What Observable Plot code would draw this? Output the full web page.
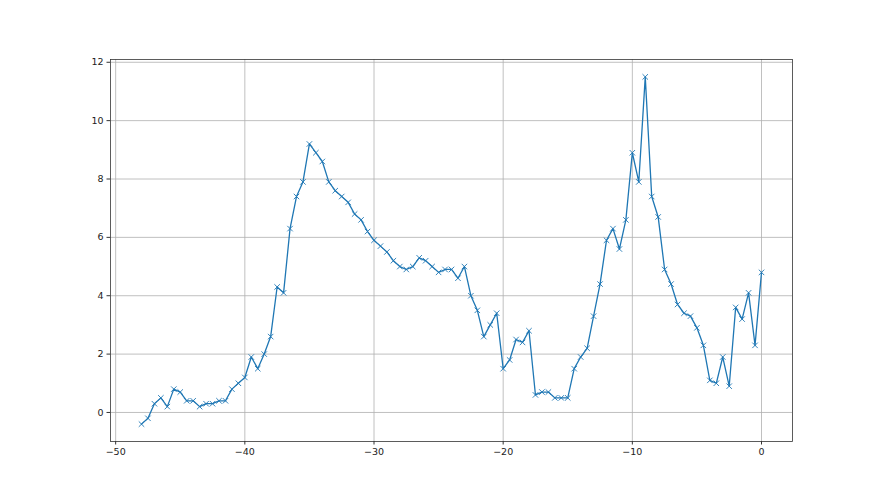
<!DOCTYPE html>
<html>
<head>
<meta charset="utf-8">
<script src="https://cdn.jsdelivr.net/npm/d3@7"></script>
<script src="https://cdn.jsdelivr.net/npm/@observablehq/plot@0.6"></script>
<style>
  html, body { margin: 0; padding: 0; background: #fff; }
</style>
</head>
<body>
<div id="chart"></div>
<script>
const xValues = [
  -48, -47.5, -47, -46.5, -46, -45.5, -45, -44.5, -44, -43.5,
  -43, -42.5, -42, -41.5, -41, -40.5, -40, -39.5, -39, -38.5,
  -38, -37.5, -37, -36.5, -36, -35.5, -35, -34.5, -34, -33.5,
  -33, -32.5, -32, -31.5, -31, -30.5, -30, -29.5, -29, -28.5,
  -28, -27.5, -27, -26.5, -26, -25.5, -25, -24.5, -24, -23.5,
  -23, -22.5, -22, -21.5, -21, -20.5, -20, -19.5, -19, -18.5,
  -18, -17.5, -17, -16.5, -16, -15.5, -15, -14.5, -14, -13.5,
  -13, -12.5, -12, -11.5, -11, -10.5, -10, -9.5, -9, -8.5,
  -8, -7.5, -7, -6.5, -6, -5.5, -5, -4.5, -4, -3.5,
  -3, -2.5, -2, -1.5, -1, -0.5, 0
];
const yValues = [
  -0.4, -0.2, 0.3, 0.5, 0.2, 0.8, 0.7, 0.4, 0.4, 0.2,
  0.3, 0.3, 0.4, 0.4, 0.8, 1.0, 1.2, 1.9, 1.5, 2.0,
  2.6, 4.3, 4.1, 6.3, 7.4, 7.9, 9.2, 8.9, 8.6, 7.9,
  7.6, 7.4, 7.2, 6.8, 6.6, 6.2, 5.9, 5.7, 5.5, 5.2,
  5.0, 4.9, 5.0, 5.3, 5.2, 5.0, 4.8, 4.9, 4.9, 4.6,
  5.0, 4.0, 3.5, 2.6, 3.0, 3.4, 1.5, 1.8, 2.5, 2.4,
  2.8, 0.6, 0.7, 0.7, 0.5, 0.5, 0.5, 1.5, 1.9, 2.2,
  3.3, 4.4, 5.9, 6.3, 5.6, 6.6, 8.9, 7.9, 11.5, 7.4,
  6.7, 4.9, 4.4, 3.7, 3.4, 3.3, 2.9, 2.3, 1.1, 1.0,
  1.9, 0.9, 3.6, 3.2, 4.1, 2.3, 4.8
];
const xTicks = [-50, -40, -30, -20, -10, 0];
const yTicks = [0, 2, 4, 6, 8, 10, 12];

const data = xValues.map((x, i) => ({x, y: yValues[i]}));
const fmt = d => d < 0 ? "\u2212" + Math.abs(d) : String(d);

const chart = Plot.plot({
  width: 880,
  height: 495,
  marginLeft: 110,
  marginRight: 88,
  marginTop: 59,
  marginBottom: 54,
  style: {background: "#fff", fontFamily: "DejaVu Sans", fontSize: "9.5px", color: "#222"},
  x: {domain: [-50.4, 2.4], ticks: xTicks},
  y: {domain: [-0.995, 12.095], ticks: yTicks},
  marks: [
    Plot.gridX(xTicks, {stroke: "#b0b0b0", strokeOpacity: 1, strokeWidth: 0.8}),
    Plot.gridY(yTicks, {stroke: "#b0b0b0", strokeOpacity: 1, strokeWidth: 0.8}),
    Plot.line(data, {x: "x", y: "y", stroke: "#1f77b4", strokeWidth: 1.3}),
    Plot.dot(data, {x: "x", y: "y", symbol: "times", r: 2.6, stroke: "#1f77b4", strokeWidth: 0.9}),
    Plot.frame({stroke: "#333", strokeWidth: 0.8}),
    Plot.axisX(xTicks, {tickSize: 3.5, tickPadding: 3.5, tickFormat: fmt, label: null, stroke: "#333", fill: "#222"}),
    Plot.axisY(yTicks, {tickSize: 3.5, tickPadding: 3.5, tickFormat: fmt, label: null, stroke: "#333", fill: "#222"})
  ]
});
document.getElementById("chart").appendChild(chart);
</script>
</body>
</html>
